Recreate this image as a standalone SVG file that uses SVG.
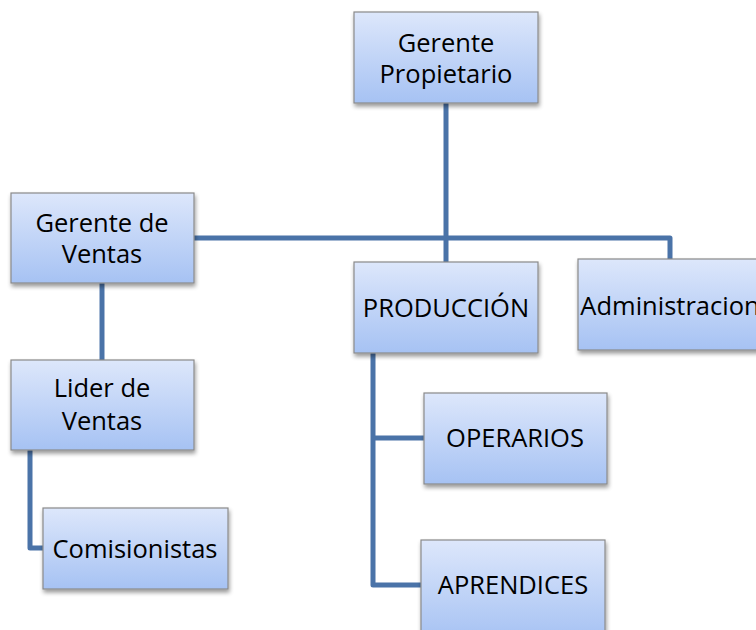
<svg xmlns="http://www.w3.org/2000/svg" width="756" height="630" viewBox="0 0 756 630">
<defs>
<linearGradient id="g" x1="0" y1="0" x2="0" y2="1">
<stop offset="0" stop-color="#DDE7FB"/>
<stop offset="1" stop-color="#A6C2F3"/>
</linearGradient>
<filter id="sh" x="-10%" y="-10%" width="130%" height="140%">
<feGaussianBlur in="SourceAlpha" stdDeviation="2"/>
<feOffset dx="1" dy="3"/>
<feComponentTransfer><feFuncA type="linear" slope="0.4"/></feComponentTransfer>
<feMerge><feMergeNode/><feMergeNode in="SourceGraphic"/></feMerge>
</filter>
</defs>
<style>
.box{fill:url(#g);stroke:#8A8A8A;stroke-width:1.2;filter:url(#sh)}
.t{font-family:"Open Sans","Liberation Sans",sans-serif;font-size:25.5px;fill:#000;text-anchor:middle}
.c{fill:none;stroke:#4A73A8;stroke-width:5;stroke-linejoin:round}
</style>
<rect width="756" height="630" fill="#fff"/>
<g id="connectors">
<path class="c" d="M446 103 V262"/>
<path class="c" d="M194 238 H670 V259"/>
<path class="c" d="M102 283 V360"/>
<path class="c" d="M30 450 V548 H43"/>
<path class="c" d="M373 353 V585 H421"/>
<path class="c" d="M373 438 H424"/>
</g>
<g id="gerente-propietario">
<rect class="box" x="354" y="12" width="184" height="91"/>
<text class="t" x="446" y="52">Gerente</text>
<text class="t" x="446" y="83">Propietario</text>
</g>
<g id="gerente-ventas">
<rect class="box" x="11" y="193" width="183" height="90"/>
<text class="t" x="102" y="232">Gerente de</text>
<text class="t" x="102" y="263">Ventas</text>
</g>
<g id="produccion">
<rect class="box" x="354" y="262" width="184" height="91"/>
<text class="t" x="446" y="317">PRODUCCIÓN</text>
</g>
<g id="administracion">
<rect class="box" x="578" y="259" width="184" height="91"/>
<text class="t" x="670" y="315">Administracion</text>
</g>
<g id="lider-ventas">
<rect class="box" x="11" y="360" width="183" height="90"/>
<text class="t" x="102" y="397">Lider de</text>
<text class="t" x="102" y="430">Ventas</text>
</g>
<g id="operarios">
<rect class="box" x="424" y="393" width="183" height="91"/>
<text class="t" x="515" y="447">OPERARIOS</text>
</g>
<g id="comisionistas">
<rect class="box" x="43" y="508" width="185" height="81"/>
<text class="t" x="135" y="558">Comisionistas</text>
</g>
<g id="aprendices">
<rect class="box" x="421" y="540" width="184" height="100"/>
<text class="t" x="513" y="594">APRENDICES</text>
</g>
</svg>
